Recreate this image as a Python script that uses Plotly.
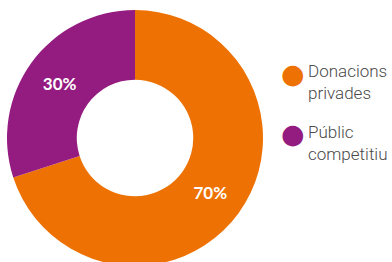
import plotly.graph_objects as go

categories = ["Donacions privades", "Públic competitiu"]
legend_labels = ["Donacions<br>privades", "Públic<br>competitiu"]
values = [70, 30]
colors = ["#EE7203", "#941B80"]

W, H = 392, 276

fig = go.Figure()
fig.add_trace(go.Pie(
    labels=categories,
    values=values,
    hole=0.455,
    sort=False,
    direction="clockwise",
    rotation=0,
    marker=dict(colors=colors, line=dict(width=0)),
    textinfo="percent",
    texttemplate="%{percent:.0%}",
    textposition="inside",
    insidetextorientation="horizontal",
    textfont=dict(family="Lato", size=17, color="white", weight="bold"),
    domain=dict(x=[7 / W, 263 / W], y=[1 - 266 / H, 1 - 10 / H]),
    showlegend=False,
    hoverinfo="label+percent",
))

# custom round legend
legend_y = [73.5, 133.5]
for lab, col, yy in zip(legend_labels, colors, legend_y):
    fig.add_annotation(
        x=292.5 / W, y=1 - yy / H, xref="paper", yref="paper",
        text="●", showarrow=False, xanchor="center", yanchor="middle",
        font=dict(size=27, color=col, family="DejaVu Sans"),
    )
    fig.add_annotation(
        x=306 / W, y=1 - (yy - 14) / H, xref="paper", yref="paper",
        text=lab, showarrow=False, xanchor="left", yanchor="top", align="left",
        font=dict(size=17, color="#4a4a4a", family="Roboto", weight=300),
    )

fig.update_layout(
    width=W, height=H,
    margin=dict(l=0, r=0, t=0, b=0),
    paper_bgcolor="white",
    plot_bgcolor="white",
)

fig.write_html(
    "out.html",
    config={"displayModeBar": False},
    post_script="document.body.style.margin='0';document.body.style.overflow='hidden';",
)
